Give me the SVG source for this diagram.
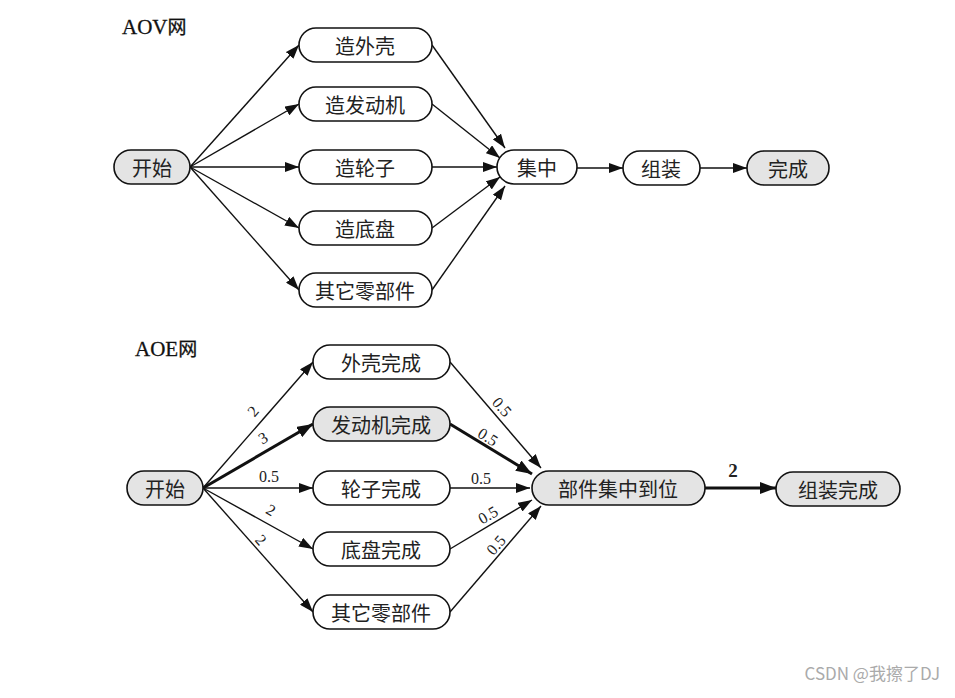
<svg xmlns="http://www.w3.org/2000/svg" width="955" height="698" viewBox="0 0 955 698">
<style>
.n{stroke:#111;stroke-width:1.6;fill:#fff}
.g{fill:#e4e4e4}
.t{font-family:"Noto Sans CJK SC","Noto Sans CJK JP",sans-serif;font-size:20px;fill:#222;text-anchor:middle;dominant-baseline:central}
.e{stroke:#111;stroke-width:1.4;fill:none;marker-end:url(#a)}
.b{stroke:#111;stroke-width:3;fill:none;marker-end:url(#ab)}
.w{font-family:"Liberation Serif",serif;font-size:16px;fill:#222;text-anchor:middle;dominant-baseline:central}
.h{font-family:"Liberation Serif","Noto Sans CJK SC",serif;font-size:21px;fill:#111;stroke:#111;stroke-width:0.3}
</style>
<defs>
<marker id="a" viewBox="0 0 14 10" refX="14" refY="5" markerWidth="14" markerHeight="10" markerUnits="userSpaceOnUse" orient="auto"><path d="M0,0L14,5L0,10z" fill="#111"/></marker>
<marker id="ab" viewBox="0 0 16 12" refX="16" refY="6" markerWidth="16" markerHeight="12" markerUnits="userSpaceOnUse" orient="auto"><path d="M0,0L16,6L0,12z" fill="#111"/></marker>
</defs>
<rect width="955" height="698" fill="#fff"/>
<text class="h" x="122" y="34">AOV<tspan font-family="Noto Sans CJK SC,sans-serif" font-size="19">网</tspan></text>
<text class="h" x="135" y="356">AOE<tspan font-family="Noto Sans CJK SC,sans-serif" font-size="19">网</tspan></text>
<g id="connectors">
<path class="e" d="M190,167L299,45"/>
<path class="e" d="M190,167L299,104"/>
<path class="e" d="M190,167L299,167"/>
<path class="e" d="M190,167L299,228"/>
<path class="e" d="M190,167L299,290"/>
<path class="e" d="M432,45L505,148"/>
<path class="e" d="M432,104L500,158"/>
<path class="e" d="M432,167L497,167"/>
<path class="e" d="M432,228L500,177"/>
<path class="e" d="M432,290L505,186"/>
<path class="e" d="M577,168L623,168"/>
<path class="e" d="M700,168L747,168"/>
<path class="e" d="M203,488L313,362"/>
<path class="b" d="M203,488L313,424"/>
<path class="e" d="M203,488L313,488"/>
<path class="e" d="M203,488L313,549"/>
<path class="e" d="M203,488L313,612"/>
<path class="e" d="M450,362L541,468"/>
<path class="b" d="M450,424L532,474"/>
<path class="e" d="M450,488L530,488"/>
<path class="e" d="M450,549L532,500"/>
<path class="e" d="M450,612L541,506"/>
<path class="b" d="M705,488L776,488"/>
<text class="w" transform="translate(253,411) rotate(-49)">2</text>
<text class="w" transform="translate(263,438) rotate(-30)">3</text>
<text class="w" x="269" y="476">0.5</text>
<text class="w" transform="translate(271,510) rotate(30)">2</text>
<text class="w" transform="translate(261,540) rotate(49)">2</text>
<text class="w" transform="translate(502,407) rotate(49)">0.5</text>
<text class="w" transform="translate(488,437) rotate(32)">0.5</text>
<text class="w" x="481" y="478">0.5</text>
<text class="w" transform="translate(488,515) rotate(-31)">0.5</text>
<text class="w" transform="translate(496,545) rotate(-49)">0.5</text>
<text class="w" x="733" y="470" style="font-size:19px;font-weight:bold">2</text>
</g>
<g id="aov-start"><rect class="n g" x="114" y="150" width="76" height="34" rx="17"/><text class="t" x="152" y="167">开始</text></g>
<g id="aov-shell"><rect class="n" x="299" y="28" width="133" height="34" rx="17"/><text class="t" x="365" y="45">造外壳</text></g>
<g id="aov-engine"><rect class="n" x="299" y="87" width="133" height="34" rx="17"/><text class="t" x="365" y="104">造发动机</text></g>
<g id="aov-wheel"><rect class="n" x="299" y="150" width="133" height="34" rx="17"/><text class="t" x="365" y="167">造轮子</text></g>
<g id="aov-chassis"><rect class="n" x="299" y="211" width="133" height="34" rx="17"/><text class="t" x="365" y="228">造底盘</text></g>
<g id="aov-other"><rect class="n" x="299" y="273" width="133" height="34" rx="17"/><text class="t" x="365" y="290">其它零部件</text></g>
<g id="aov-gather"><rect class="n" x="497" y="150" width="80" height="34" rx="17"/><text class="t" x="537" y="167">集中</text></g>
<g id="aov-assemble"><rect class="n" x="623" y="151" width="77" height="34" rx="17"/><text class="t" x="661" y="168">组装</text></g>
<g id="aov-done"><rect class="n g" x="747" y="151" width="82" height="34" rx="17"/><text class="t" x="788" y="168">完成</text></g>
<g id="aoe-start"><rect class="n g" x="127" y="471" width="76" height="34" rx="17"/><text class="t" x="165" y="488">开始</text></g>
<g id="aoe-shell"><rect class="n" x="313" y="345" width="137" height="34" rx="17"/><text class="t" x="381" y="362">外壳完成</text></g>
<g id="aoe-engine"><rect class="n g" x="313" y="407" width="137" height="34" rx="17"/><text class="t" x="381" y="424">发动机完成</text></g>
<g id="aoe-wheel"><rect class="n" x="313" y="471" width="137" height="34" rx="17"/><text class="t" x="381" y="488">轮子完成</text></g>
<g id="aoe-chassis"><rect class="n" x="313" y="532" width="137" height="34" rx="17"/><text class="t" x="381" y="549">底盘完成</text></g>
<g id="aoe-other"><rect class="n" x="313" y="595" width="137" height="34" rx="17"/><text class="t" x="381" y="612">其它零部件</text></g>
<g id="aoe-gather"><rect class="n g" x="532" y="471" width="173" height="34" rx="17"/><text class="t" x="618" y="488">部件集中到位</text></g>
<g id="aoe-assemble"><rect class="n g" x="776" y="472" width="124" height="34" rx="17"/><text class="t" x="838" y="489">组装完成</text></g>
<text x="940" y="680" font-family="Noto Sans CJK SC,sans-serif" font-size="17" fill="#aaa" text-anchor="end">CSDN @我擦了DJ</text>
</svg>
